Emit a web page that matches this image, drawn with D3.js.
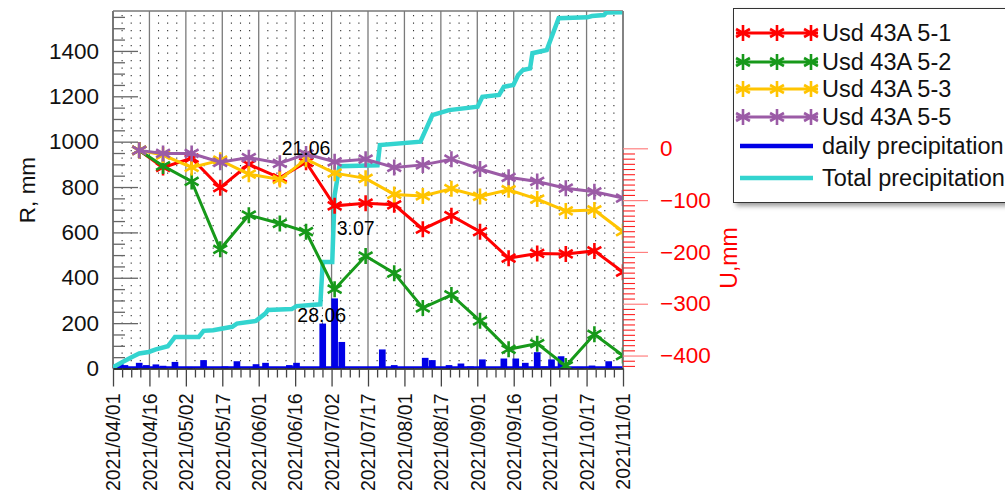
<!DOCTYPE html>
<html>
<head>
<meta charset="utf-8">
<script src="https://cdn.jsdelivr.net/npm/d3@7"></script>
<style>
  body { margin: 0; background: #fff; }
  svg text { font-family: "Liberation Sans", Arial, Helvetica, sans-serif; }
</style>
</head>
<body>
<div id="chart"></div>
<script>
// chart values
let xTickLabels = ["2021/04/01", "2021/04/16", "2021/05/02", "2021/05/17", "2021/06/01",
  "2021/06/16", "2021/07/02", "2021/07/17", "2021/08/01", "2021/08/17", "2021/09/01",
  "2021/09/16", "2021/10/01", "2021/10/17", "2021/11/01"];

let measDates = ["2021-04-12", "2021-04-22", "2021-05-04", "2021-05-16", "2021-05-28",
  "2021-06-10", "2021-06-21", "2021-07-03", "2021-07-16", "2021-07-28", "2021-08-09",
  "2021-08-21", "2021-09-02", "2021-09-14", "2021-09-26", "2021-10-08", "2021-10-20",
  "2021-11-01"];

let u51 = [-4, -37, -19, -76, -31, -57, -27, -111, -106, -109, -156, -130, -161, -212, -203, -204, -198, -239];
let u52 = [-4, -34, -64, -195, -129, -145, -161, -272, -208, -241, -308, -283, -333, -388, -377, -420, -359, -400];
let u53 = [-4, -13, -37, -23, -50, -60, -21, -48, -58, -89, -92, -78, -93, -80, -98, -121, -119, -161];
let u55 = [-4, -10, -10, -27, -18, -29, -11, -26, -21, -37, -32, -21, -40, -56, -64, -77, -84, -96];

let barDates = ["2021-04-04", "2021-04-06", "2021-04-12", "2021-04-15", "2021-04-19",
  "2021-04-22", "2021-04-27", "2021-05-03", "2021-05-09", "2021-05-18", "2021-05-23",
  "2021-05-31", "2021-06-04", "2021-06-14", "2021-06-17", "2021-06-28", "2021-07-03",
  "2021-07-06", "2021-07-23", "2021-07-28", "2021-08-10", "2021-08-13", "2021-08-20",
  "2021-08-25", "2021-08-29", "2021-09-03", "2021-09-12", "2021-09-17", "2021-09-21",
  "2021-09-26", "2021-09-29", "2021-10-02", "2021-10-06", "2021-10-14", "2021-10-19",
  "2021-10-26"];
let barValues = [22, 15, 25, 15, 18, 12, 29, 7, 37, 9, 32, 19, 25, 15, 25, 198, 309, 117,
  84, 15, 47, 37, 15, 22, 9, 40, 44, 44, 25, 72, 9, 40, 54, 7, 13, 32];

let cumDates = ["2021-04-01", "2021-04-05", "2021-04-09", "2021-04-12", "2021-04-16",
  "2021-04-19", "2021-04-24", "2021-04-26", "2021-04-27", "2021-05-07", "2021-05-09",
  "2021-05-13", "2021-05-21", "2021-05-23", "2021-05-31", "2021-06-04", "2021-06-05",
  "2021-06-15", "2021-06-17", "2021-06-27", "2021-06-28", "2021-07-02", "2021-07-03",
  "2021-07-05", "2021-07-21", "2021-07-22", "2021-08-08", "2021-08-13", "2021-08-20",
  "2021-09-01", "2021-09-03", "2021-09-10", "2021-09-12", "2021-09-16", "2021-09-18",
  "2021-09-20", "2021-09-23", "2021-09-24", "2021-09-30", "2021-10-05", "2021-10-17",
  "2021-10-19", "2021-10-24", "2021-10-25", "2021-11-01"];
let cumValues = [5, 29, 51, 66, 73, 84, 98, 125, 139, 139, 166, 169, 184, 198, 210, 243, 258,
  262, 275, 283, 469, 469, 764, 892, 896, 985, 1000, 1117, 1139, 1154, 1198, 1206, 1242,
  1250, 1294, 1316, 1323, 1390, 1404, 1544, 1548, 1554, 1558, 1569, 1570];

let width = 1005;
let height = 494;

let plotLeft = 113;
let plotRight = 623;
let plotTop = 11;
let plotBottom = 368.5;

let parseDate = d3.timeParse("%Y-%m-%d");
let dayMs = 24 * 3600 * 1000;

let svg = d3.select("#chart")
  .append("svg")
  .attr("width", width)
  .attr("height", height);

svg.append("rect").attr("width", width).attr("height", height).attr("fill", "#fff");

let t0 = parseDate("2021-04-01");
let t1 = parseDate("2021-11-01");

let xScale = d3.scaleTime().domain([t0, t1]).range([plotLeft, plotRight]);
let yScale = d3.scaleLinear().domain([0, 1576]).range([plotBottom, plotTop]);
let uScale = d3.scaleLinear().domain([-425, 265]).range([plotBottom, plotTop]);

// the time axis is split into equal parts, not calendar steps
let majorTicks = d3.range(15).map(i => new Date(+t0 + i * (t1 - t0) / 14));
let minorTicks = d3.range(57).map(i => new Date(+t0 + i * (t1 - t0) / 56));

let defs = svg.append("defs");
defs.append("clipPath").attr("id", "plotClip")
  .append("rect")
  .attr("x", plotLeft).attr("y", plotTop)
  .attr("width", plotRight - plotLeft).attr("height", plotBottom - plotTop);

let blur = defs.append("filter").attr("id", "shadow")
  .attr("x", "-10%").attr("y", "-10%").attr("width", "130%").attr("height", "130%");
blur.append("feGaussianBlur").attr("stdDeviation", 2.5);

// grid
let grid = svg.append("g");
grid.selectAll("line.minor")
  .data(minorTicks.filter((d, i) => i % 4 !== 0))
  .enter()
  .append("line")
  .attr("class", "minor")
  .attr("x1", d => xScale(d)).attr("x2", d => xScale(d))
  .attr("y1", plotTop + 4).attr("y2", plotBottom)
  .attr("stroke", "#333")
  .attr("stroke-width", 1.1)
  .attr("stroke-dasharray", "1.2,6.3");

grid.selectAll("line.major")
  .data(majorTicks.slice(1))
  .enter()
  .append("line")
  .attr("class", "major")
  .attr("x1", d => xScale(d)).attr("x2", d => xScale(d))
  .attr("y1", plotTop).attr("y2", plotBottom)
  .attr("stroke", "#7a7a7a")
  .attr("stroke-width", 1.3);

// top frame and left axis line
svg.append("line")
  .attr("x1", plotLeft).attr("x2", plotRight)
  .attr("y1", plotTop).attr("y2", plotTop)
  .attr("stroke", "#777").attr("stroke-width", 1.5);
svg.append("line")
  .attr("x1", plotLeft).attr("x2", plotLeft)
  .attr("y1", plotTop).attr("y2", plotBottom)
  .attr("stroke", "#777").attr("stroke-width", 2);

let plot = svg.append("g").attr("clip-path", "url(#plotClip)");

// daily precipitation bars
let barWidthDays = 2.8;
plot.selectAll("rect.bar")
  .data(barValues)
  .enter()
  .append("rect")
  .attr("class", "bar")
  .attr("x", (d, i) => xScale(new Date(+parseDate(barDates[i]) - barWidthDays / 2 * dayMs)))
  .attr("width", (d, i) => xScale(new Date(+t0 + barWidthDays * dayMs)) - xScale(t0))
  .attr("y", d => yScale(d))
  .attr("height", d => yScale(0) - yScale(d))
  .attr("fill", "#0000e6");

plot.append("line")
  .attr("x1", plotLeft).attr("x2", plotRight)
  .attr("y1", yScale(0) - 1).attr("y2", yScale(0) - 1)
  .attr("stroke", "#0000e6").attr("stroke-width", 2.5);

// total precipitation
let cumLine = d3.line()
  .x((d, i) => xScale(parseDate(cumDates[i])))
  .y(d => yScale(d));

plot.append("path")
  .datum(cumValues)
  .attr("d", cumLine)
  .attr("fill", "none")
  .attr("stroke", "#33d4cf")
  .attr("stroke-width", 4.5)
  .attr("stroke-linejoin", "miter");

// displacement series
let series = [
  { name: "Usd 43A 5-1", values: u51, color: "#ff0000" },
  { name: "Usd 43A 5-2", values: u52, color: "#17991a" },
  { name: "Usd 43A 5-3", values: u53, color: "#ffc400" },
  { name: "Usd 43A 5-5", values: u55, color: "#9b5ba6" }
];

let starR = 8;
let c30 = Math.cos(Math.PI / 6) * starR;
let s30 = Math.sin(Math.PI / 6) * starR;
let starPath = "M0," + (-starR) + "L0," + starR +
  "M" + (-c30) + "," + (-s30) + "L" + c30 + "," + s30 +
  "M" + (-c30) + "," + s30 + "L" + c30 + "," + (-s30);

let uLine = d3.line()
  .x((d, i) => xScale(parseDate(measDates[i])))
  .y(d => uScale(d));

series.forEach(function(s) {
  let g = plot.append("g");
  g.append("path")
    .datum(s.values)
    .attr("d", uLine)
    .attr("fill", "none")
    .attr("stroke", s.color)
    .attr("stroke-width", 3);

  g.selectAll("path.star")
    .data(s.values)
    .enter()
    .append("path")
    .attr("class", "star")
    .attr("d", starPath)
    .attr("transform", (d, i) => "translate(" + xScale(parseDate(measDates[i])) + "," + uScale(d) + ")")
    .attr("fill", "none")
    .attr("stroke", s.color)
    .attr("stroke-width", 2.6);
});

// annotations
let jun21 = measDates.indexOf("2021-06-21");
svg.append("text")
  .attr("x", xScale(parseDate("2021-06-21")))
  .attr("y", uScale(u55[jun21]) + 1)
  .attr("text-anchor", "middle")
  .attr("font-size", 19.5)
  .text("21.06");

let jul3 = measDates.indexOf("2021-07-03");
svg.append("text")
  .attr("x", xScale(parseDate("2021-07-03")) + 2)
  .attr("y", uScale(u51[jul3]) + 29)
  .attr("font-size", 19.5)
  .text("3.07");

let jun28 = barDates.indexOf("2021-06-28");
svg.append("text")
  .attr("x", xScale(parseDate("2021-06-28")) - 1)
  .attr("y", yScale(barValues[jun28]) - 1.5)
  .attr("text-anchor", "middle")
  .attr("font-size", 19.5)
  .text("28.06");

// left axis
let yAxis = d3.axisLeft(yScale)
  .tickValues(d3.range(0, 1401, 200))
  .tickSizeInner(-25)
  .tickSizeOuter(0)
  .tickPadding(14)
  .tickFormat(d3.format("d"));
let yAxisG = svg.append("g")
  .attr("transform", "translate(" + plotLeft + ",0)")
  .call(yAxis);
yAxisG.select(".domain").remove();
yAxisG.selectAll("line").attr("stroke", "#666").attr("stroke-width", 1.3);
yAxisG.selectAll("text").attr("font-size", 22.5).attr("fill", "#111");

let yMinor = d3.axisLeft(yScale)
  .tickValues(d3.range(0, 1576, 50).filter(v => v % 200 !== 0))
  .tickSizeInner(-12)
  .tickSizeOuter(0)
  .tickFormat("");
let yMinorG = svg.append("g")
  .attr("transform", "translate(" + plotLeft + ",0)")
  .call(yMinor);
yMinorG.select(".domain").remove();
yMinorG.selectAll("line").attr("stroke", "#666").attr("stroke-width", 1.3);

svg.append("text")
  .attr("transform", "translate(35,190)rotate(-90)")
  .attr("text-anchor", "middle")
  .attr("font-size", 22.5)
  .attr("fill", "#111")
  .text("R, mm");

// right axis
svg.append("line")
  .attr("x1", plotRight).attr("x2", plotRight)
  .attr("y1", plotTop).attr("y2", plotBottom)
  .attr("stroke", "#777").attr("stroke-width", 1.5);

let uAxis = d3.axisRight(uScale)
  .tickValues(d3.range(0, -401, -100))
  .tickSizeInner(25)
  .tickSizeOuter(0)
  .tickPadding(12);
let uAxisG = svg.append("g")
  .attr("transform", "translate(" + plotRight + ",0)")
  .call(uAxis);
uAxisG.select(".domain").remove();
uAxisG.selectAll("line").attr("stroke", "#ff8080").attr("stroke-width", 1.2);
uAxisG.selectAll("text").attr("font-size", 22.5).attr("fill", "#ff0000");

let uMinor = d3.axisRight(uScale)
  .tickValues(d3.range(0, -421, -10).filter(v => v % 100 !== 0))
  .tickSizeInner(12)
  .tickSizeOuter(0)
  .tickFormat("");
let uMinorG = svg.append("g")
  .attr("transform", "translate(" + plotRight + ",0)")
  .call(uMinor);
uMinorG.select(".domain").remove();
uMinorG.selectAll("line").attr("stroke", "#ff2020").attr("stroke-width", 1.1);

svg.append("text")
  .attr("transform", "translate(737,258)rotate(-90)")
  .attr("text-anchor", "middle")
  .attr("font-size", 23)
  .attr("fill", "#ff0000")
  .text("U,mm");

// bottom axis
let xAxis = d3.axisBottom(xScale)
  .tickValues(majorTicks)
  .tickSizeInner(18)
  .tickSizeOuter(0)
  .tickFormat((d, i) => xTickLabels[i]);
let xAxisG = svg.append("g")
  .attr("transform", "translate(0," + plotBottom + ")")
  .call(xAxis);
xAxisG.select(".domain")
  .attr("stroke", "#111").attr("stroke-width", 1.6);
xAxisG.selectAll("line").attr("stroke", "#444").attr("stroke-width", 1.3);
xAxisG.selectAll("text")
  .attr("transform", "rotate(-90)")
  .attr("text-anchor", "end")
  .attr("x", -25)
  .attr("y", 0)
  .attr("dy", "0.35em")
  .attr("font-size", 19.5)
  .attr("fill", "#111");

let xMinor = d3.axisBottom(xScale)
  .tickValues(minorTicks.filter((d, i) => i % 4 !== 0))
  .tickSizeInner(9)
  .tickSizeOuter(0)
  .tickFormat("");
let xMinorG = svg.append("g")
  .attr("transform", "translate(0," + plotBottom + ")")
  .call(xMinor);
xMinorG.select(".domain").remove();
xMinorG.selectAll("line").attr("stroke", "#444").attr("stroke-width", 1.3);

// legend
let legend = svg.append("g");
legend.append("rect")
  .attr("x", 736).attr("y", 11)
  .attr("width", 300).attr("height", 195)
  .attr("fill", "#999")
  .attr("filter", "url(#shadow)");
legend.append("rect")
  .attr("x", 733.5).attr("y", 8.5)
  .attr("width", 300).attr("height", 194)
  .attr("fill", "#fff")
  .attr("stroke", "#333")
  .attr("stroke-width", 1);

let rowY = [33, 62, 89, 117];
series.forEach(function(s, i) {
  let y = rowY[i];
  legend.append("line")
    .attr("x1", 736).attr("x2", 818)
    .attr("y1", y).attr("y2", y)
    .attr("stroke", s.color).attr("stroke-width", 3);
  [743, 777, 811].forEach(function(x) {
    legend.append("path")
      .attr("d", starPath)
      .attr("transform", "translate(" + x + "," + y + ")")
      .attr("fill", "none")
      .attr("stroke", s.color)
      .attr("stroke-width", 2.6);
  });
  legend.append("text")
    .attr("x", 822).attr("y", y)
    .attr("dy", "0.36em")
    .attr("font-size", 23.5)
    .attr("fill", "#111")
    .text(s.name);
});

let extraRows = [
  { name: "daily precipitation", color: "#0000e6", y: 146 },
  { name: "Total precipitation", color: "#33d4cf", y: 178 }
];
extraRows.forEach(function(r) {
  legend.append("line")
    .attr("x1", 740).attr("x2", 813)
    .attr("y1", r.y).attr("y2", r.y)
    .attr("stroke", r.color).attr("stroke-width", 4.5);
  legend.append("text")
    .attr("x", 822).attr("y", r.y)
    .attr("dy", "0.36em")
    .attr("font-size", 23.5)
    .attr("fill", "#111")
    .text(r.name);
});
</script>
</body>
</html>
